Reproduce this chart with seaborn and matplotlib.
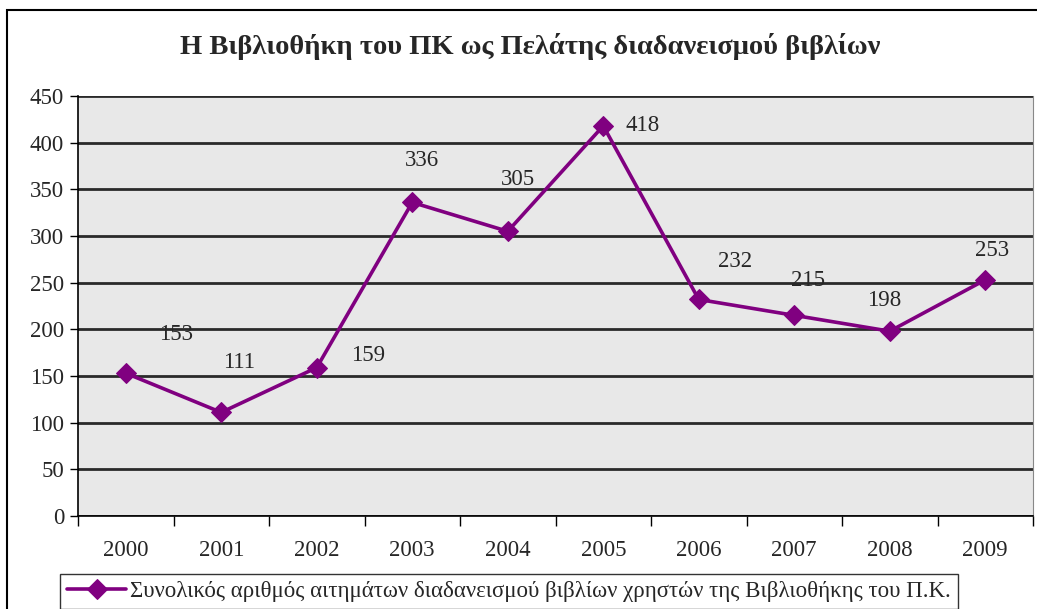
import pandas as pd
import numpy as np
import matplotlib.pyplot as plt
import seaborn as sns
from matplotlib.patches import Rectangle

years = ['2000', '2001', '2002', '2003', '2004', '2005', '2006', '2007', '2008', '2009']
requests = [153, 111, 159, 336, 305, 418, 232, 215, 198, 253]
series_name = 'Συνολικός αριθμός αιτημάτων διαδανεισμού βιβλίων χρηστών της Βιβλιοθήκης του Π.Κ.'
title = 'Η Βιβλιοθήκη του ΠΚ ως Πελάτης διαδανεισμού βιβλίων'

# label offsets in points (label placement copied by eye from the original)
label_offsets = [(36, 28), (13, 36), (37, 9), (7, 30), (7, 37), (28, 0),
                 (26, 27), (10, 25), (-4, 22), (5, 21)]

sns.set_style('white')
plt.rcParams['font.family'] = ['Liberation Serif', 'DejaVu Serif']

df = pd.DataFrame({'pos': np.arange(len(years)), 'value': requests, 'series': series_name})

fig = plt.figure(figsize=(10.37, 6.09), dpi=100)
ax = fig.add_axes([78 / 1037, 1 - 516 / 609, 955 / 1037, 420 / 609])
ax.set_facecolor('#E8E8E8')

# outer chart border
fig.patches.append(Rectangle((7 / 1037, -0.05), 1.1, 1 - 10 / 609 + 0.05, transform=fig.transFigure,
                             fill=False, edgecolor='black', linewidth=1.5, zorder=0))

sns.lineplot(data=df, x='pos', y='value', hue='series', palette=['#800080'], marker='D',
             markersize=10, markeredgecolor='#800080', linewidth=2.6, ax=ax)

for i, v in enumerate(requests):
    ax.annotate(str(v), (i, v), xytext=label_offsets[i], textcoords='offset points',
                ha='center', va='center', fontsize=16.5)

ax.set_xlim(-0.5, len(years) - 0.5)
ax.set_ylim(0, 450)
ax.set_yticks(range(0, 451, 50))
ax.yaxis.grid(True, color='#2a2a2a', linewidth=2)
ax.set_axisbelow(True)
ax.set_xticks(range(len(years)))
ax.set_xticklabels(years)
ax.set_xticks(np.arange(-0.5, len(years)), minor=True)
ax.tick_params(axis='x', which='major', length=0, pad=17, labelsize=16.5)
ax.tick_params(axis='x', which='minor', length=7, width=1, color='black', direction='out', bottom=True)
ax.tick_params(axis='y', length=6, width=1, color='black', left=True, labelsize=16.5, pad=4)
ax.set_xlabel('')
ax.set_ylabel('')

for side in ['left', 'bottom']:
    ax.spines[side].set_color('black')
    ax.spines[side].set_linewidth(1.2)
ax.spines['top'].set_visible(False)
ax.spines['right'].set_color('#888888')

fig.text(530 / 1037, 1 - 47 / 609, title, ha='center', va='center', fontsize=20.5, fontweight='bold')

ax.legend(loc='upper left', bbox_to_anchor=(-18 / 955, -58 / 420), frameon=True, fancybox=False,
          edgecolor='black', fontsize=16.5, handlelength=2.6, borderpad=0.3, handletextpad=0.15,
          borderaxespad=0)
ax.get_legend().get_frame().set_linewidth(1)

fig.savefig('out.png', dpi=100)
